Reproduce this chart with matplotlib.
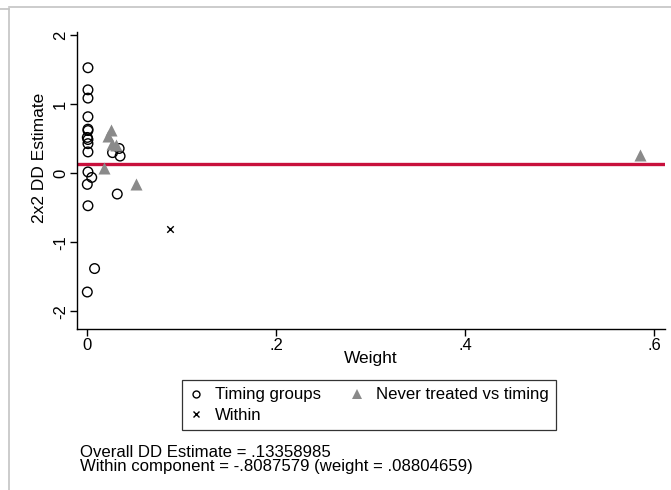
import matplotlib
matplotlib.use("Agg")
import matplotlib.pyplot as plt
from matplotlib.lines import Line2D

plt.rcParams['font.family'] = ['Liberation Sans', 'DejaVu Sans']

# 2x2 DD components: weight and estimate
timing_weight = [0.001, 0.001, 0.001, 0.001, 0.001, 0.001, 0.0003, 0.001, 0.001, 0.001,
                 0.027, 0.034, 0.035, 0.001, 0.005, 0.0003, 0.032, 0.001, 0.008, 0.0003]
timing_est = [1.53, 1.21, 1.09, 0.82, 0.64, 0.62, 0.52, 0.49, 0.43, 0.31,
              0.30, 0.36, 0.25, 0.02, -0.06, -0.16, -0.30, -0.47, -1.38, -1.72]

never_weight = [0.025, 0.022, 0.026, 0.031, 0.018, 0.052, 0.585]
never_est = [0.63, 0.54, 0.42, 0.41, 0.07, -0.15, 0.26]

within_weight = [0.08804659]
within_est = [-0.8087579]

overall_dd = 0.13358985

x_ticks = [0, 0.2, 0.4, 0.6]
x_tick_labels = ["0", ".2", ".4", ".6"]
y_ticks = [-2, -1, 0, 1, 2]
y_tick_labels = ["-2", "-1", "0", "1", "2"]

W, H = 671, 490
fig = plt.figure(figsize=(W / 100, H / 100), dpi=100)


def fx(px):
    return px / W


def fy(py):
    return 1 - py / H


# window edge lines
grey = "#c4c4c4"
fig.add_artist(Line2D([fx(9), fx(671)], [fy(7.5), fy(7.5)], color=grey, lw=1.2))
fig.add_artist(Line2D([fx(0), fx(8.5)], [fy(9.5), fy(9.5)], color=grey, lw=1.2))
fig.add_artist(Line2D([fx(8.5), fx(8.5)], [fy(9.5), fy(490)], color=grey, lw=1.2))

ax = fig.add_axes([fx(77), fy(329), fx(665) - fx(77), fy(32) - fy(329)])

ax.axhline(overall_dd, color="#c8103c", lw=2.4, zorder=1)

tri_grey = "#8a8a8a"
ax.scatter(timing_weight, timing_est, s=48, facecolors="none",
           edgecolors="black", linewidths=1.0, zorder=3)
ax.scatter(never_weight, never_est, s=75, marker="^", color=tri_grey,
           linewidths=0, zorder=3)
ax.scatter(within_weight, within_est, s=22, marker="x", color="black",
           linewidths=1.0, zorder=3)

ax.set_xlim(-0.0106, 0.6116)
ax.set_ylim(-2.256, 2.048)

ax.set_xticks(x_ticks)
ax.set_xticklabels(x_tick_labels)
ax.set_yticks(y_ticks)
ax.set_yticklabels(y_tick_labels, rotation=90, va="center")

for s in ["top", "right"]:
    ax.spines[s].set_visible(False)
for s in ["left", "bottom"]:
    ax.spines[s].set_linewidth(1.0)

ax.tick_params(direction="out", length=5, width=1.0, labelsize=12, pad=1.5)

ax.set_xlabel("Weight", fontsize=12.5, labelpad=-1.5)
fig.text(fx(39), fy(158), "2x2 DD Estimate", rotation=90, ha="center", va="center",
         fontsize=12.5)

# legend keys
key_timing = Line2D([], [], ls="none", marker="o", ms=5, mfc="none", mec="black", mew=1.0)
key_within = Line2D([], [], ls="none", marker="x", ms=4.2, color="black", mew=1.0)
key_never = Line2D([], [], ls="none", marker="^", ms=7.5, color=tri_grey, mew=0)

# column-wise fill: Timing / Within in the first column, Never treated in the second
leg = fig.legend([key_timing, key_within, key_never],
                 ["Timing groups", "Within", "Never treated vs timing"],
                 ncol=2, loc="center", bbox_to_anchor=(fx(369), fy(405)),
                 frameon=True, fancybox=False, edgecolor="black", fontsize=12.1,
                 handlelength=0.8, handletextpad=0.75, columnspacing=1.7,
                 labelspacing=0.3, borderpad=0.45, borderaxespad=0)
leg.get_frame().set_linewidth(0.9)

fig.text(fx(80), fy(452), "Overall DD Estimate = .13358985", ha="left",
         va="center", fontsize=12.1)
fig.text(fx(80), fy(466), "Within component = -.8087579 (weight = .08804659)",
         ha="left", va="center", fontsize=12.1)

fig.savefig("out.png", dpi=100)
